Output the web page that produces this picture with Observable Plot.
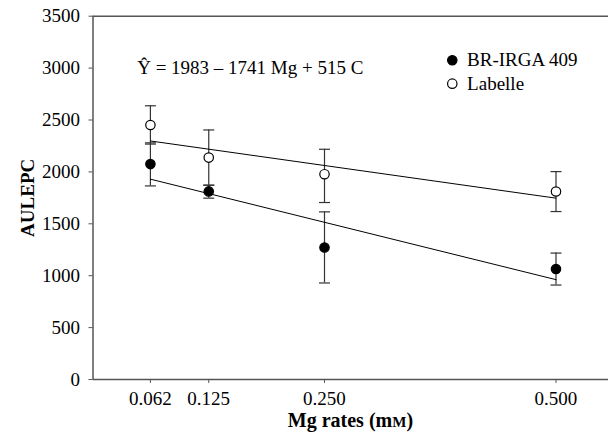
<!DOCTYPE html>
<html><head><meta charset="utf-8">
<script src="https://cdn.jsdelivr.net/npm/d3@7"></script>
<script src="https://cdn.jsdelivr.net/npm/@observablehq/plot@0.6"></script>
<style>body{margin:0;background:#fff;overflow:hidden}</style>
</head><body><div id="chart"></div><script>
// Data
const seriesNames = ["BR-IRGA 409", "Labelle"];
const rates = [0.062, 0.125, 0.250, 0.500];
const brMean = [2075, 1812, 1272, 1064];
const brLow  = [1865, 1747, 930, 910];
const brHigh = [2280, 1872, 1615, 1218];
const labMean = [2452, 2138, 1978, 1811];
const labLow  = [2268, 1872, 1705, 1618];
const labHigh = [2637, 2404, 2218, 2003];
const fitRates = [0.062, 0.500];
const brFit = [1930, 962];
const labFit = [2298, 1747];
const yTicks = [0, 500, 1000, 1500, 2000, 2500, 3000, 3500];
const equation = "\u0176 = 1983 \u2013 1741 Mg + 515 C";

const rows = [];
rates.forEach((r, i) => {
  rows.push({series: seriesNames[0], rate: r, mean: brMean[i], lo: brLow[i], hi: brHigh[i]});
  rows.push({series: seriesNames[1], rate: r, mean: labMean[i], lo: labLow[i], hi: labHigh[i]});
});
const fits = [];
fitRates.forEach((r, i) => {
  fits.push({series: seriesNames[0], rate: r, v: brFit[i]});
  fits.push({series: seriesNames[1], rate: r, v: labFit[i]});
});
const capSymbol = {draw(ctx, size) { const w = Math.sqrt(size / Math.PI); ctx.moveTo(-w, 0); ctx.lineTo(w, 0); }};
const axisColor = "#555";
const barColor = "#333";
const serif = "Liberation Serif";
const fillFor = s => s === seriesNames[0] ? "#000" : "#fff";
const xEnd = 0.5567;

const chart = Plot.plot({
  width: 608, height: 438,
  marginLeft: 92.5, marginRight: 20, marginTop: 15.7, marginBottom: 59,
  style: {fontFamily: serif, fontSize: "19px", color: "#000", background: "#fff"},
  x: {domain: [0, 0.5351]},
  y: {domain: [0, 3500]},
  marks: [
    Plot.ruleY([0], {x1: 0, x2: xEnd, stroke: axisColor, strokeWidth: 1.5}),
    Plot.ruleY([3500], {x1: 0, x2: xEnd, stroke: axisColor, strokeWidth: 1.5}),
    Plot.ruleX([0], {y1: 0, y2: 3500, stroke: axisColor, strokeWidth: 1.5}),
    Plot.axisY({ticks: yTicks, tickFormat: d => String(d), tickSize: 4, tickPadding: 9, label: null, stroke: axisColor, fontFamily: serif, fontSize: 19}),
    Plot.axisX({ticks: rates, tickFormat: d => d.toFixed(3), tickSize: 4, tickPadding: 8, label: null, stroke: axisColor, fontFamily: serif, fontSize: 19}),
    Plot.ruleX(rows, {x: "rate", y1: "lo", y2: "hi", stroke: barColor, strokeWidth: 1.2}),
    Plot.dot(rows, {x: "rate", y: "lo", symbol: capSymbol, r: 5.5, stroke: barColor, strokeWidth: 1.2, fill: "none"}),
    Plot.dot(rows, {x: "rate", y: "hi", symbol: capSymbol, r: 5.5, stroke: barColor, strokeWidth: 1.2, fill: "none"}),
    Plot.line(fits, {x: "rate", y: "v", z: "series", stroke: "#000", strokeWidth: 1}),
    Plot.dot(rows, {x: "rate", y: "mean", r: 4.7, stroke: "#000", strokeWidth: 1.2, fill: d => fillFor(d.series)}),
    Plot.text([equation], {x: 0.0477, y: 3000, textAnchor: "start", lineAnchor: "middle", fill: "#000", fontFamily: serif}),
    Plot.dot([seriesNames[0]], {x: 0.388, y: 3075, r: 4.7, stroke: "#000", strokeWidth: 1.2, fill: d => fillFor(d)}),
    Plot.dot([seriesNames[1]], {x: 0.388, y: 2850, r: 4.7, stroke: "#000", strokeWidth: 1.2, fill: d => fillFor(d)}),
    Plot.text([seriesNames[0]], {x: 0.404, y: 3075, textAnchor: "start", lineAnchor: "middle", fill: "#000", fontFamily: serif}),
    Plot.text([seriesNames[1]], {x: 0.404, y: 2850, textAnchor: "start", lineAnchor: "middle", fill: "#000", fontFamily: serif}),
    Plot.text(["AULEPC"], {x: 0, y: 1750, dx: -65, rotate: -90, fontWeight: "bold", fill: "#000", fontFamily: serif}),
    Plot.text(["Mg rates (mM)"], {x: 0.278, y: 0, dy: 41, lineAnchor: "middle", fontWeight: "bold", fill: "#000", fontFamily: serif, fontSize: 20})
  ]
});
document.getElementById("chart").appendChild(chart);
// small-caps M in the unit
d3.select(chart).selectAll("text").each(function() {
  if (this.textContent === "Mg rates (mM)") {
    const t = d3.select(this);
    t.text(null);
    t.append("tspan").text("Mg rates (m");
    t.append("tspan").attr("font-size", "15px").text("M");
    t.append("tspan").text(")");
  }
});
</script></body></html>
